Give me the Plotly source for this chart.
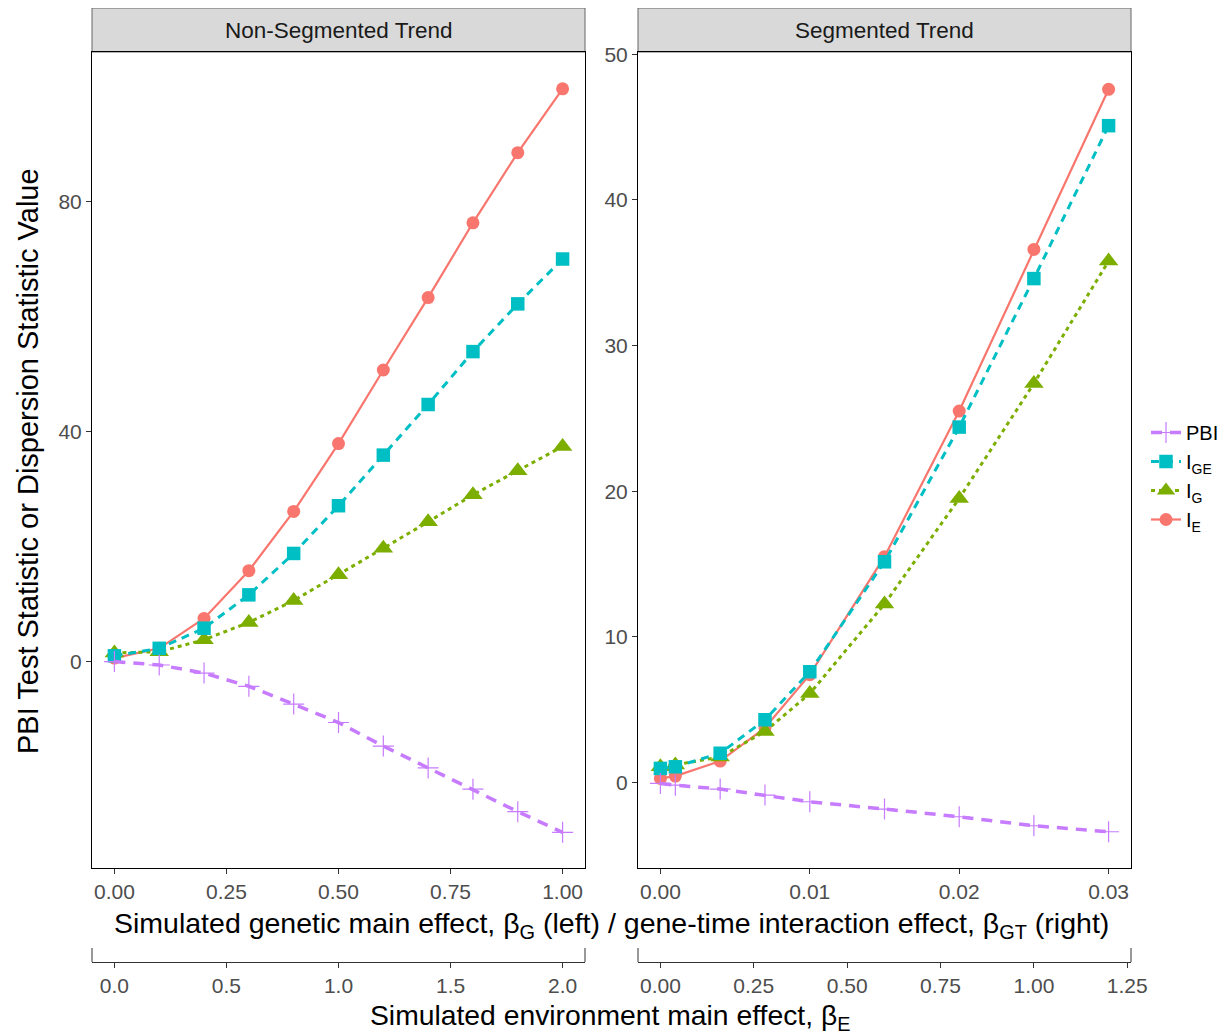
import plotly.graph_objects as go

# ---------------- data ----------------
beta_G = [0.0, 0.1, 0.2, 0.3, 0.4, 0.5, 0.6, 0.7, 0.8, 0.9, 1.0]
beta_E_left = [0.0, 0.2, 0.4, 0.6, 0.8, 1.0, 1.2, 1.4, 1.6, 1.8, 2.0]
I_E_left = [0.6, 2.3, 7.5, 15.8, 26.1, 37.9, 50.7, 63.3, 76.3, 88.5, 99.6]
I_GE_left = [1.0, 2.3, 5.8, 11.6, 18.8, 27.1, 35.9, 44.7, 53.9, 62.2, 70.0]
I_G_left = [1.5, 1.7, 3.8, 6.8, 10.6, 15.1, 19.7, 24.3, 29.0, 33.2, 37.4]
PBI_left = [0.0, -0.6, -2.0, -4.3, -7.4, -10.6, -14.7, -18.5, -22.2, -26.1, -29.7]

beta_GT = [0.0, 0.001, 0.004, 0.007, 0.01, 0.015, 0.02, 0.025, 0.03]
beta_E_right = [0.0, 0.04, 0.16, 0.28, 0.4, 0.6, 0.8, 1.0, 1.2]
I_E_right = [0.27, 0.43, 1.46, 3.75, 7.4, 15.5, 25.5, 36.6, 47.6]
I_GE_right = [0.96, 1.07, 2.0, 4.3, 7.6, 15.15, 24.4, 34.6, 45.1]
I_G_right = [1.07, 1.2, 1.75, 3.5, 6.1, 12.25, 19.5, 27.4, 35.8]
PBI_right = [-0.07, -0.19, -0.46, -0.87, -1.33, -1.83, -2.36, -2.98, -3.39]

panel_titles = ["Non-Segmented Trend", "Segmented Trend"]
left_x_ticks = [0.0, 0.25, 0.5, 0.75, 1.0]
left_x_labels = ["0.00", "0.25", "0.50", "0.75", "1.00"]
right_x_ticks = [0.0, 0.01, 0.02, 0.03]
right_x_labels = ["0.00", "0.01", "0.02", "0.03"]
left_xE_ticks = [0.0, 0.5, 1.0, 1.5, 2.0]
left_xE_labels = ["0.0", "0.5", "1.0", "1.5", "2.0"]
right_xE_ticks = [0.0, 0.25, 0.5, 0.75, 1.0, 1.25]
right_xE_labels = ["0.00", "0.25", "0.50", "0.75", "1.00", "1.25"]
left_y_ticks = [0, 40, 80]
right_y_ticks = [0, 10, 20, 30, 40, 50]

# ---------------- styling ----------------
FONT = "Liberation Sans, Arial, sans-serif"
OFF = 8  # page body margin
W, H = 1230 - OFF, 1036 - OFF
# desired screen positions
SX0, SX1, SY0, SY1 = 92, 1131, 8, 962
ML = SX0 - OFF
MR = W - (SX1 - OFF)
MT = SY0 - OFF
MB = H - (SY1 - OFF)
PW = SX1 - SX0
PH = SY1 - SY0


def px_x(px):
    return (px - SX0) / PW


def px_y(py):
    return (SY1 - py) / PH


dom_left = [0.0, px_x(585)]
dom_right = [px_x(638), 1.0]
ydom = [px_y(868), px_y(52)]

series = [
    # name, color, symbol, size, dash, width
    ("I<sub>E</sub>", "#F8766D", "circle", 13, "solid", 2.2, I_E_left, I_E_right),
    ("I<sub>G</sub>", "#7CAE00", "triangle-up", 17, "4px,4px", 3, I_G_left, I_G_right),
    ("I<sub>GE</sub>", "#00BFC4", "square", 13.5, "8px,6px", 3, I_GE_left, I_GE_right),
    ("PBI", "#C77CFF", "cross-thin", 15, "11px,8px", 3.5, PBI_left, PBI_right),
]

fig = go.Figure()
for name, col, sym, size, dash, lw, yl, yr in series:
    marker = dict(symbol=sym, size=size, color=col)
    if sym == "cross-thin":
        marker["line"] = dict(color=col, width=1.2)
    fig.add_trace(go.Scatter(x=beta_G, y=yl, mode="lines+markers", name=name,
                             legendgroup=name, showlegend=True,
                             line=dict(color=col, width=lw, dash=dash),
                             marker=marker, xaxis="x", yaxis="y"))
    fig.add_trace(go.Scatter(x=beta_GT, y=yr, mode="lines+markers", name=name,
                             legendgroup=name, showlegend=False,
                             line=dict(color=col, width=lw, dash=dash),
                             marker=marker, xaxis="x2", yaxis="y2"))

# invisible traces so the secondary (environment effect) axes are drawn
fig.add_trace(go.Scatter(x=beta_E_left, y=I_E_left, mode="markers", showlegend=False,
                         marker=dict(opacity=0), hoverinfo="skip", xaxis="x3", yaxis="y"))
fig.add_trace(go.Scatter(x=beta_E_right, y=I_E_right, mode="markers", showlegend=False,
                         marker=dict(opacity=0), hoverinfo="skip", xaxis="x4", yaxis="y2"))

tickfont = dict(family=FONT, size=21, color="#4D4D4D")
common_x = dict(showgrid=False, zeroline=False, showline=True,
                linewidth=1, ticks="outside", ticklen=5, tickcolor="#333333",
                tickwidth=1, tickfont=tickfont)
common_y = dict(showgrid=False, zeroline=False, showline=True, linecolor="#000000",
                linewidth=1, ticks="outside", ticklen=5, tickcolor="#333333",
                tickwidth=1, tickfont=tickfont, mirror=True)

fig.update_layout(
    width=W, height=H,
    margin=dict(l=ML, r=MR, t=MT, b=MB, autoexpand=False),
    paper_bgcolor="white", plot_bgcolor="white",
    font=dict(family=FONT, color="#000000"),
    xaxis=dict(domain=dom_left, anchor="y", range=[-0.05, 1.05], mirror=True,
               linecolor="#000000",
               tickvals=left_x_ticks, ticktext=left_x_labels, **common_x),
    xaxis2=dict(domain=dom_right, anchor="y2", range=[-0.0015, 0.0315], mirror=True,
                linecolor="#000000",
                tickvals=right_x_ticks, ticktext=right_x_labels, **common_x),
    xaxis3=dict(domain=dom_left, overlaying="x", anchor="free", position=0,
                side="bottom", range=[-0.1, 2.1], linecolor="#333333",
                tickvals=left_xE_ticks, ticktext=left_xE_labels, **common_x),
    xaxis4=dict(domain=dom_right, overlaying="x2", anchor="free", position=0,
                side="bottom", range=[-0.06, 1.26], linecolor="#333333",
                tickvals=right_xE_ticks, ticktext=right_xE_labels, **common_x),
    yaxis=dict(domain=ydom, anchor="x", range=[-35.9, 106.0],
               tickvals=left_y_ticks, **common_y),
    yaxis2=dict(domain=ydom, anchor="x2", range=[-5.88, 50.16],
                tickvals=right_y_ticks, **common_y),
    legend=dict(x=px_x(1146), y=px_y(476), xanchor="left", yanchor="middle",
                font=dict(family=FONT, size=20, color="#000000"),
                traceorder="reversed", itemwidth=30, bgcolor="rgba(0,0,0,0)",
                tracegroupgap=0),
    showlegend=True,
)

shapes = []
for dom in (dom_left, dom_right):
    # facet strips
    shapes.append(dict(type="rect", xref="paper", yref="paper",
                       x0=dom[0], x1=dom[1], y0=ydom[1], y1=1.0,
                       fillcolor="#D9D9D9", line=dict(color="#666666", width=1),
                       layer="below"))
    # end caps of the environment-effect axis
    for xe in dom:
        shapes.append(dict(type="line", xref="paper", yref="paper",
                           x0=xe, x1=xe, y0=0, y1=px_y(948),
                           line=dict(color="#333333", width=1)))
fig.update_layout(shapes=shapes)

annotations = []
for dom, title in zip((dom_left, dom_right), panel_titles):
    annotations.append(dict(text=title, xref="paper", yref="paper",
                            x=(dom[0] + dom[1]) / 2, y=(ydom[1] + 1.0) / 2,
                            showarrow=False, xanchor="center", yanchor="middle",
                            font=dict(family=FONT, size=22.5, color="#1A1A1A")))
annotations.append(dict(
    text="Simulated genetic main effect, \u03b2<sub>G</sub> (left) / gene-time interaction effect, \u03b2<sub>GT</sub> (right)",
    xref="paper", yref="paper", x=px_x(611), y=px_y(925), showarrow=False,
    xanchor="center", yanchor="middle", font=dict(family=FONT, size=28.5, color="#000000")))
annotations.append(dict(
    text="Simulated environment main effect, \u03b2<sub>E</sub>",
    xref="paper", yref="paper", x=px_x(610), y=px_y(1017), showarrow=False,
    xanchor="center", yanchor="middle", font=dict(family=FONT, size=28.3, color="#000000")))
annotations.append(dict(
    text="PBI Test Statistic or Dispersion Statistic Value",
    xref="paper", yref="paper", x=px_x(28), y=px_y(461), showarrow=False,
    textangle=-90, xanchor="center", yanchor="middle",
    font=dict(family=FONT, size=29, color="#000000")))
fig.update_layout(annotations=annotations)

fig.write_html("out.html")
